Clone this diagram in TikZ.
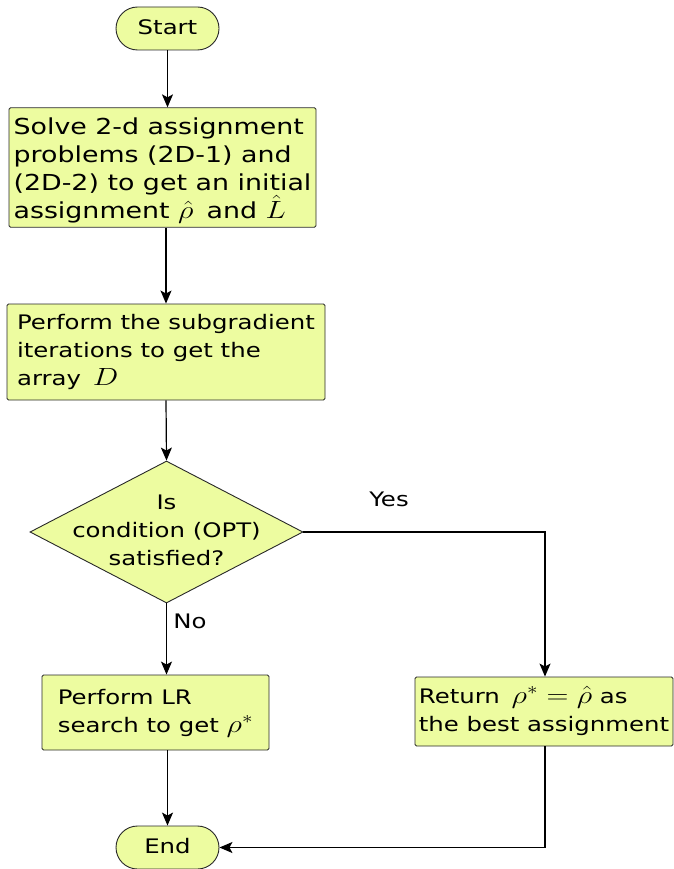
\documentclass[tikz,border=0pt]{standalone}
\usepackage{fontspec}
\setmainfont{DejaVu Sans}
\usepackage{graphicx}
\usetikzlibrary{shapes.geometric,shapes.misc,arrows.meta}

\definecolor{boxfill}{RGB}{237,252,160}
\definecolor{boxline}{RGB}{40,40,40}

% text blocks, widened; left aligned or centred
\newcommand\lblock[2][20]{\scalebox{1.22}[1]{\fontsize{#1}{28}\selectfont\begin{tabular}{@{}l@{}}#2\end{tabular}}}
\newcommand\cblock[1]{\scalebox{1.22}[1]{\fontsize{20}{28}\selectfont\begin{tabular}{@{}c@{}}#1\end{tabular}}}
% formulas set a little larger than the words round them, without opening the line spacing
\newcommand\mth[1]{{\fontsize{24}{28}\selectfont\smash{$#1$}}}

\tikzset{
  flowbox/.style={draw=boxline, fill=boxfill, line width=0.9pt, rectangle, rounded corners=1.5pt, inner sep=0pt, align=left},
  terminal/.style={draw=boxline, fill=boxfill, line width=0.9pt, rounded rectangle, inner sep=0pt,
                   minimum width=103pt, minimum height=43pt},
  decision/.style={draw=boxline, fill=boxfill, line width=0.9pt, diamond, inner sep=0pt,
                   minimum width=273pt, minimum height=142pt},
  flow/.style={line width=1.2pt, -{Stealth[length=13pt,width=11pt,inset=3pt]}},
  tag/.style={inner sep=0pt, font=\fontsize{20}{24}\selectfont}
}

\begin{document}
\begin{tikzpicture}[x=1pt,y=-1pt]
\useasboundingbox (0,0) rectangle (673,869);

\node[terminal] (start) at (167.5,28.5) {\cblock{Start}};
\node[flowbox, minimum width=307pt, minimum height=119pt] (solve) at (162.5,167.5)
  {\lblock[22]{\rule{0pt}{27pt}Solve 2-d assignment\\problems (2D-1) and\\(2D-2) to get an initial\\assignment \mth{\hat{\rho}}\, and \mth{\hat{L}}}};
\node[flowbox, minimum width=318pt, minimum height=96pt] (subgr) at (166,352)
  {\lblock{Perform the subgradient\\iterations to get the\\array \,\mth{D}}};
\node[decision, label={[inner sep=0pt]center:\cblock{Is\\condition (OPT)\\satisfied?}}] (cond) at (166.5,532) {};
\node[flowbox, minimum width=227pt, minimum height=75pt] (lr) at (155.5,712.5)
  {\lblock{Perform LR\\search to get \mth{\rho^{*}}}};
\node[flowbox, minimum width=258pt, minimum height=69pt] (ret) at (544,711.5)
  {\lblock{Return \,\mth{\rho^{*} = \hat{\rho}} as\\the best assignment}};
\node[terminal] (end) at (167.5,847.5) {\cblock{End}};

\node[tag] (yes) at (389,499) {\scalebox{1.22}[1]{Yes}};
\node[tag] (no) at (190,621) {\scalebox{1.22}[1]{No}};

\coordinate (mx) at (166,0);
\coordinate (rx) at (545,0);

\draw[flow] (start.south) -- (start.south |- solve.north);
\draw[flow] (mx |- solve.south) -- (mx |- subgr.north);
\draw[flow] (mx |- subgr.south) -- (cond.north);
\draw[flow] (cond.south) -- (cond.south |- lr.north);
\draw[flow] (cond.east) -- (rx |- cond.east) -- (rx |- ret.north);
\draw[flow] (lr.south -| end.north) -- (end.north);
\draw[flow] (rx |- ret.south) -- (rx |- end.east) -- (end.east);
\end{tikzpicture}
\end{document}
